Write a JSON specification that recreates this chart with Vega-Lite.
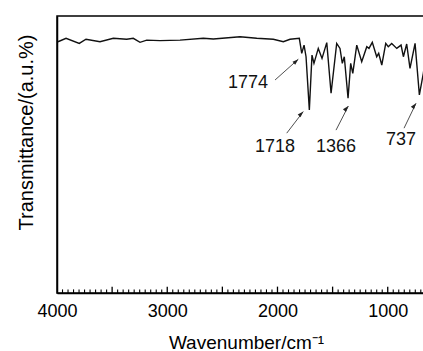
{
  "$schema": "https://vega.github.io/schema/vega-lite/v6.json",
  "width": 367,
  "height": 277,
  "autosize": {"type": "none"},
  "padding": {"left": 57, "top": 16, "right": 0, "bottom": 58},
  "background": "white",
  "config": {
    "view": {"stroke": "#000", "strokeWidth": 1.5},
    "font": "Liberation Sans",
    "axis": {"grid": false, "domainColor": "#000", "domainWidth": 1.5, "tickColor": "#000", "labelColor": "#000", "titleColor": "#000", "labelFont": "Liberation Sans", "titleFont": "Liberation Sans", "titleFontWeight": "normal"}
  },
  "datasets": {
    "spectrum": [
      {"w": 3991, "t": 90.7}, {"w": 3918, "t": 91.95}, {"w": 3798, "t": 90.1}, {"w": 3737, "t": 91.6},
      {"w": 3610, "t": 90.7}, {"w": 3489, "t": 91.95}, {"w": 3368, "t": 91.6}, {"w": 3308, "t": 91.95},
      {"w": 3247, "t": 90.5}, {"w": 3186, "t": 91.3}, {"w": 3066, "t": 91.1}, {"w": 2884, "t": 91.3},
      {"w": 2673, "t": 91.95}, {"w": 2582, "t": 91.7}, {"w": 2340, "t": 92.5}, {"w": 2188, "t": 91.95},
      {"w": 2038, "t": 91.6}, {"w": 1947, "t": 90.7}, {"w": 1886, "t": 91.6}, {"w": 1802, "t": 91.95},
      {"w": 1780, "t": 86.5}, {"w": 1759, "t": 89.5}, {"w": 1741, "t": 85.3}, {"w": 1711, "t": 66.1},
      {"w": 1687, "t": 85.9}, {"w": 1669, "t": 82.9}, {"w": 1630, "t": 88.3}, {"w": 1596, "t": 84.7},
      {"w": 1553, "t": 90.4}, {"w": 1514, "t": 72.1}, {"w": 1463, "t": 90.1}, {"w": 1433, "t": 88.3},
      {"w": 1412, "t": 82.9}, {"w": 1394, "t": 85.3}, {"w": 1360, "t": 70.3}, {"w": 1336, "t": 82.9},
      {"w": 1317, "t": 79.3}, {"w": 1281, "t": 89.5}, {"w": 1236, "t": 83.5}, {"w": 1190, "t": 88.9},
      {"w": 1170, "t": 88.3}, {"w": 1140, "t": 90.5}, {"w": 1100, "t": 85.3}, {"w": 1082, "t": 86.5},
      {"w": 1054, "t": 82.3}, {"w": 1018, "t": 90.1}, {"w": 995, "t": 88.9}, {"w": 964, "t": 90.1},
      {"w": 918, "t": 88.3}, {"w": 879, "t": 89.5}, {"w": 858, "t": 85.3}, {"w": 828, "t": 89.9},
      {"w": 798, "t": 81.1}, {"w": 752, "t": 90.1}, {"w": 713, "t": 71.5}, {"w": 677, "t": 79.3},
      {"w": 660, "t": 84.0}
    ],
    "labels": [
      {"label": "1774", "w": 2267, "t": 74.0},
      {"label": "1718", "w": 2022, "t": 50.9},
      {"label": "1366", "w": 1469, "t": 50.9},
      {"label": "737", "w": 879, "t": 53.4}
    ],
    "arrows": [
      {"label": "1774", "w1": 2022, "t1": 76.9, "w2": 1811, "t2": 84.4},
      {"label": "1718", "w1": 1916, "t1": 57.7, "w2": 1766, "t2": 65.5},
      {"label": "1366", "w1": 1469, "t1": 58.8, "w2": 1357, "t2": 67.5},
      {"label": "737", "w1": 852, "t1": 59.5, "w2": 743, "t2": 68.5}
    ],
    "minorTicks": [
      {"w": 700}, {"w": 750}, {"w": 800}, {"w": 850}, {"w": 900}, {"w": 950}, {"w": 1050}, {"w": 1100}, {"w": 1150}, {"w": 1200}, {"w": 1250}, {"w": 1300}, {"w": 1350}, {"w": 1400}, {"w": 1450},
      {"w": 1550}, {"w": 1600}, {"w": 1650}, {"w": 1700}, {"w": 1750}, {"w": 1800}, {"w": 1850}, {"w": 1900}, {"w": 1950},
      {"w": 2050}, {"w": 2100}, {"w": 2150}, {"w": 2200}, {"w": 2250}, {"w": 2300}, {"w": 2350}, {"w": 2400}, {"w": 2450},
      {"w": 2550}, {"w": 2600}, {"w": 2650}, {"w": 2700}, {"w": 2750}, {"w": 2800}, {"w": 2850}, {"w": 2900}, {"w": 2950},
      {"w": 3050}, {"w": 3100}, {"w": 3150}, {"w": 3200}, {"w": 3250}, {"w": 3300}, {"w": 3350}, {"w": 3400}, {"w": 3450},
      {"w": 3550}, {"w": 3600}, {"w": 3650}, {"w": 3700}, {"w": 3750}, {"w": 3800}, {"w": 3850}, {"w": 3900}, {"w": 3950}
    ],
    "majorTicks": [
      {"w": 1000}, {"w": 1500}, {"w": 2000}, {"w": 2500}, {"w": 3000}, {"w": 3500}
    ]
  },
  "layer": [
    {
      "data": {"name": "spectrum"},
      "mark": {"type": "line", "clip": true, "color": "#111", "strokeWidth": 1.4},
      "encoding": {
        "x": {
          "field": "w", "type": "quantitative",
          "scale": {"domain": [4000, 671], "nice": false, "zero": false},
          "axis": {
            "orient": "bottom",
            "values": [4000, 3000, 2000, 1000],
            "format": "d",
            "ticks": false,
            "labelOverlap": false,
            "labelFlush": false,
            "labelFontSize": 18,
            "labelBaseline": "alphabetic",
            "labelPadding": 23,
            "title": "Wavenumber/cm⁻¹",
            "titleFontSize": 19,
            "titleBaseline": "alphabetic",
            "titleY": 55,
            "titleX": 189
          }
        },
        "y": {
          "field": "t", "type": "quantitative",
          "scale": {"domain": [0, 100], "nice": false},
          "axis": {
            "ticks": false, "labels": false,
            "title": "Transmittance/(a.u.%)",
            "titleFontSize": 20,
            "titleBaseline": "alphabetic",
            "titleAngle": -90,
            "titleX": -25,
            "titleY": 116,
            "titleAlign": "center"
          }
        }
      }
    },
    {
      "data": {"name": "minorTicks"},
      "mark": {"type": "rule", "color": "#000", "strokeWidth": 1.1},
      "encoding": {
        "x": {"field": "w", "type": "quantitative"},
        "y": {"datum": 0},
        "y2": {"datum": 1.3}
      }
    },
    {
      "data": {"name": "majorTicks"},
      "mark": {"type": "rule", "color": "#000", "strokeWidth": 1.3},
      "encoding": {
        "x": {"field": "w", "type": "quantitative"},
        "y": {"datum": 0},
        "y2": {"datum": 2.3}
      }
    },
    {
      "data": {"name": "arrows"},
      "mark": {"type": "rule", "color": "#222", "strokeWidth": 0.8},
      "encoding": {
        "x": {"field": "w1", "type": "quantitative"},
        "y": {"field": "t1", "type": "quantitative"},
        "x2": {"field": "w2"},
        "y2": {"field": "t2"}
      }
    },
    {
      "data": {"name": "arrows"},
      "mark": {"type": "point", "filled": true, "color": "#222", "shape": "M0,0L-1,3L1,3Z", "size": 16, "opacity": 1},
      "encoding": {
        "x": {"field": "w2", "type": "quantitative"},
        "y": {"field": "t2", "type": "quantitative"},
        "angle": {"field": "label", "type": "nominal", "scale": {"domain": ["1774", "1718", "1366", "737"], "range": [48, 37, 27, 26]}, "legend": null}
      }
    },
    {
      "data": {"name": "labels"},
      "mark": {"type": "text", "fontSize": 18, "align": "center", "baseline": "alphabetic", "color": "#111", "font": "Liberation Sans"},
      "encoding": {
        "x": {"field": "w", "type": "quantitative"},
        "y": {"field": "t", "type": "quantitative"},
        "text": {"field": "label"}
      }
    }
  ]
}
